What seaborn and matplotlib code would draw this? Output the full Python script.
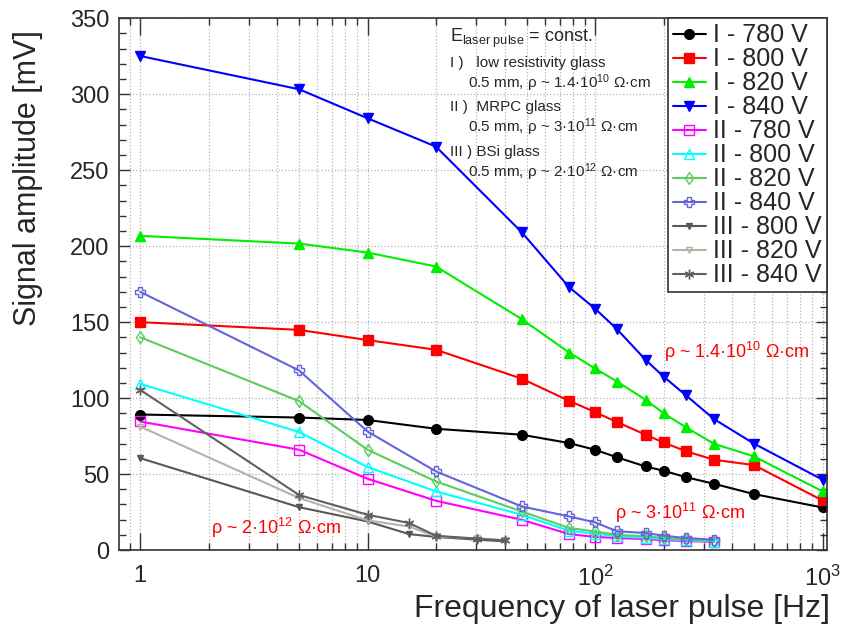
import matplotlib
matplotlib.use("Agg")
import matplotlib.pyplot as plt
from matplotlib.ticker import MultipleLocator, NullFormatter, LogLocator
import seaborn as sns
import pandas as pd

# Laser pulse frequencies [Hz]
freq_I = [1, 5, 10, 20, 47.6, 76.9, 100, 125, 166.7, 200, 250, 333.3, 500, 1000]
freq_II = [1, 5, 10, 20, 47.6, 76.9, 100, 125, 166.7, 200, 250, 333.3]
freq_III = [1, 5, 10, 15.2, 20, 30.3, 40]

# Signal amplitudes [mV]
I_780 = [89.2, 87.2, 85.6, 79.8, 75.9, 70.4, 66.0, 61.0, 55.0, 52.2, 48.0, 43.6, 36.8, 28.0]
I_800 = [150.0, 144.9, 138.2, 131.8, 112.8, 98.2, 90.8, 84.2, 75.9, 70.8, 65.1, 59.4, 55.9, 32.6]
I_820 = [206.8, 201.7, 195.8, 186.6, 152.0, 130.0, 119.5, 110.9, 98.9, 90.1, 80.9, 69.9, 61.6, 38.6]
I_840 = [325.2, 303.3, 284.2, 265.5, 209.2, 173.0, 158.9, 145.3, 125.2, 114.2, 102.0, 86.2, 70.0, 46.3]

II_780 = [84.6, 66.0, 46.9, 32.4, 19.9, 10.5, 8.6, 7.9, 7.2, 6.5, 5.9, 5.3]
II_800 = [109.4, 77.7, 54.6, 38.6, 23.2, 12.6, 10.8, 9.0, 8.0, 7.2, 6.5, 5.6]
II_820 = [140.1, 98.0, 66.0, 45.1, 25.4, 14.5, 12.2, 10.0, 9.0, 8.0, 7.0, 6.0]
II_840 = [170.0, 118.2, 78.0, 51.7, 28.7, 22.1, 18.2, 12.3, 11.2, 9.4, 7.9, 6.8]

III_800 = [60.5, 28.2, 18.8, 10.5, 8.6, 6.8, 5.7]
III_820 = [81.3, 34.2, 19.5, 15.5, 8.9, 7.7, 6.5]
III_840 = [105.5, 36.2, 23.2, 17.8, 9.4, 7.4, 6.3]

x_tick_values = [1, 10, 100, 1000]
x_tick_labels = ["1", "10", r"$\mathregular{10^{2}}$", r"$\mathregular{10^{3}}$"]

sns.set_style("ticks")
plt.rcParams["font.family"] = ["Liberation Sans", "DejaVu Sans"]
plt.rcParams["mathtext.fontset"] = "custom"
plt.rcParams["mathtext.rm"] = "Liberation Sans"
plt.rcParams["mathtext.it"] = "Liberation Sans:italic"
plt.rcParams["mathtext.default"] = "regular"

# (label, x, y, color, marker, size, filled)
series = [
    ("I - 780 V", freq_I, I_780, "#000000", "o", 7, True),
    ("I - 800 V", freq_I, I_800, "#ff0000", "s", 7, True),
    ("I - 820 V", freq_I, I_820, "#00ee00", "^", 7, True),
    ("I - 840 V", freq_I, I_840, "#0000ff", "v", 7, True),
    ("II - 780 V", freq_II, II_780, "#ff00ff", "s", 7, False),
    ("II - 800 V", freq_II, II_800, "#00ffff", "^", 7, False),
    ("II - 820 V", freq_II, II_820, "#5ccc5c", "d", 6, False),
    ("II - 840 V", freq_II, II_840, "#6464dc", "P", 7, False),
    ("III - 800 V", freq_III, III_800, "#585858", "v", 5, True),
    ("III - 820 V", freq_III, III_820, "#bcb0a4", "v", 5, False),
    ("III - 840 V", freq_III, III_840, "#606060", (6, 2, 0), 7, True),
]

fig = plt.figure(figsize=(8.44, 6.33), dpi=100)
ax = fig.add_axes([0.1414, 0.1311, 0.8381, 0.8400])

for label, xs, ys, color, marker, ms, filled in series:
    df = pd.DataFrame({"freq": xs, "amp": ys})
    kw = dict(markeredgecolor=color, markersize=ms, markeredgewidth=1.0)
    kw["markerfacecolor"] = color if filled else "none"
    sns.lineplot(data=df, x="freq", y="amp", ax=ax, color=color, marker=marker,
                 linewidth=1.5, label=label, estimator=None, sort=False, **kw)

ax.set_xscale("log")
ax.set_xlim(0.811, 1043)
ax.set_ylim(0, 350)
ax.set_xticks(x_tick_values)
ax.set_xticklabels(x_tick_labels)
ax.xaxis.set_minor_locator(LogLocator(base=10, subs=range(2, 10), numticks=20))
ax.xaxis.set_minor_formatter(NullFormatter())
ax.yaxis.set_major_locator(MultipleLocator(50))
ax.yaxis.set_minor_locator(MultipleLocator(10))

ax.grid(which="major", axis="y", linestyle=":", color="#b4b4b4", linewidth=0.9)
ax.grid(which="both", axis="x", linestyle=":", color="#b4b4b4", linewidth=0.9)

ax.tick_params(axis="both", which="both", direction="in", top=True, right=True,
               labelsize=17, width=1.0, color="#333333")
ax.tick_params(axis="x", which="major", length=12, pad=11)
ax.tick_params(axis="x", which="minor", length=5)
ax.tick_params(axis="y", which="major", length=8, pad=7)
ax.tick_params(axis="y", which="minor", length=5)
for sp in ax.spines.values():
    sp.set_linewidth(1.2)
    sp.set_color("#333333")

ax.set_xlabel("Frequency of laser pulse [Hz]", fontsize=23, ha="right")
ax.xaxis.set_label_coords(1.005, -0.083)
ax.set_ylabel("Signal amplitude [mV]", fontsize=22, loc="top")
ax.yaxis.set_label_coords(-0.108, 0.978)

# Resistivity annotations
red = "#ff0000"
ax.text(201, 130.5, r"ρ ~ 1.4·$\mathregular{10^{10}}$ Ω·cm", color=red, fontsize=13,
        ha="left", va="center")
ax.text(122, 24.5, r"ρ ~ 3·$\mathregular{10^{11}}$ Ω·cm", color=red, fontsize=13,
        ha="left", va="center")
ax.text(2.06, 14.7, r"ρ ~ 2·$\mathregular{10^{12}}$ Ω·cm", color=red, fontsize=13,
        ha="left", va="center")

# Description block
tx0, tx1 = 0.4675, 0.493
ax.text(tx0, 0.963, r"E$_{\mathregular{laser\ pulse}}$ = const.", transform=ax.transAxes,
        fontsize=13, va="center", ha="left")
block = [
    (tx0, 0.916, "I )   low resistivity glass"),
    (tx1, 0.878, r"0.5 mm, ρ ~ 1.4·$\mathregular{10^{10}}$ Ω·cm"),
    (tx0, 0.833, "II )  MRPC glass"),
    (tx1, 0.796, r"0.5 mm, ρ ~ 3·$\mathregular{10^{11}}$ Ω·cm"),
    (tx0, 0.749, "III ) BSi glass"),
    (tx1, 0.711, r"0.5 mm, ρ ~ 2·$\mathregular{10^{12}}$ Ω·cm"),
]
for x, y, s in block:
    ax.text(x, y, s, transform=ax.transAxes, fontsize=11, va="center", ha="left")

leg = ax.legend(loc="upper right", bbox_to_anchor=(1.0, 1.0), borderaxespad=0.0,
                fontsize=18, labelspacing=0.0, handlelength=1.3, handletextpad=0.3,
                borderpad=0.2, frameon=True, fancybox=False, framealpha=1.0,
                edgecolor="#333333")
leg.get_frame().set_linewidth(1.2)

fig.savefig("out.png", dpi=100)
